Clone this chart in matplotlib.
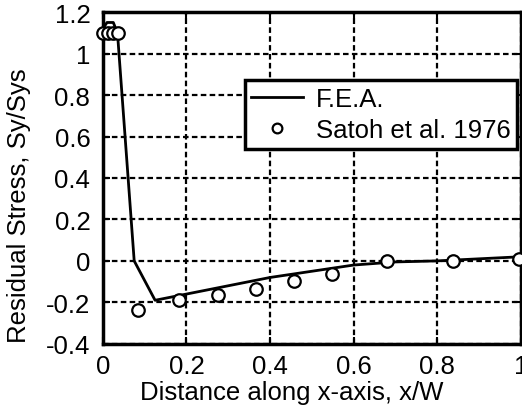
import matplotlib
matplotlib.use("Agg")
import matplotlib.pyplot as plt

plt.rcParams['font.family'] = ['Liberation Sans', 'DejaVu Sans']

# F.E.A. curve
fea_x = [0.0, 0.01, 0.025, 0.035, 0.075, 0.125, 0.2, 0.3, 0.4, 0.5, 0.6, 0.7, 0.8, 0.9, 1.0]
fea_y = [1.12, 1.15, 1.15, 1.10, 0.0, -0.19, -0.16, -0.12, -0.08, -0.05, -0.02, -0.005, 0.0, 0.01, 0.02]

# Satoh et al. 1976 measurements
satoh_x = [0.0, 0.012, 0.024, 0.036, 0.083, 0.181, 0.276, 0.366, 0.457, 0.548, 0.679, 0.838, 0.995]
satoh_y = [1.1, 1.1, 1.1, 1.1, -0.236, -0.19, -0.165, -0.135, -0.097, -0.061, 0.0, 0.0, 0.01]

xticks = [0, 0.2, 0.4, 0.6, 0.8, 1]
xticklabels = ['0', '0.2', '0.4', '0.6', '0.8', '1']
yticks = [-0.4, -0.2, 0, 0.2, 0.4, 0.6, 0.8, 1, 1.2]
yticklabels = ['-0.4', '-0.2', '0', '0.2', '0.4', '0.6', '0.8', '1', '1.2']

fig = plt.figure(figsize=(5.22, 4.10), dpi=100)
ax = fig.add_axes([0.197, 0.159, 0.801, 0.809])

ax.plot(fea_x, fea_y, color='black', lw=2, label='F.E.A.', zorder=3)
ax.plot(satoh_x, satoh_y, ls='none', marker='o', ms=9, mfc='white', mec='black',
        mew=1.6, label='Satoh et al. 1976', zorder=4, clip_on=False)

ax.set_xlim(0, 1)
ax.set_ylim(-0.4, 1.2)
ax.set_xticks(xticks)
ax.set_xticklabels(xticklabels)
ax.set_yticks(yticks)
ax.set_yticklabels(yticklabels)
ax.tick_params(direction='in', length=5, width=1.5, labelsize=18.5, top=True, right=True)
ax.tick_params(axis='y', pad=9)
ax.tick_params(axis='x', pad=7)
ax.grid(True, color='black', ls=(0, (2.5, 1.5)), lw=1.6)
for s in ax.spines.values():
    s.set_linewidth(2.5)

ax.set_xlabel('Distance along x-axis, x/W', fontsize=18.5, va='center')
ax.set_ylabel('Residual Stress, Sy/Sys', fontsize=18.5, va='center')
ax.xaxis.set_label_coords(0.452, -0.145)
ax.yaxis.set_label_coords(-0.2, 0.42)

leg = ax.legend(loc='upper right', bbox_to_anchor=(0.99, 0.795), fontsize=18.5, frameon=True,
                fancybox=False, framealpha=1, edgecolor='black', handlelength=2.0,
                handletextpad=0.5, borderpad=0.25, labelspacing=0.3, borderaxespad=0)
leg.get_frame().set_linewidth(2.5)
leg.legend_handles[1].set_markersize(7)

fig.savefig('out.png', dpi=100)
